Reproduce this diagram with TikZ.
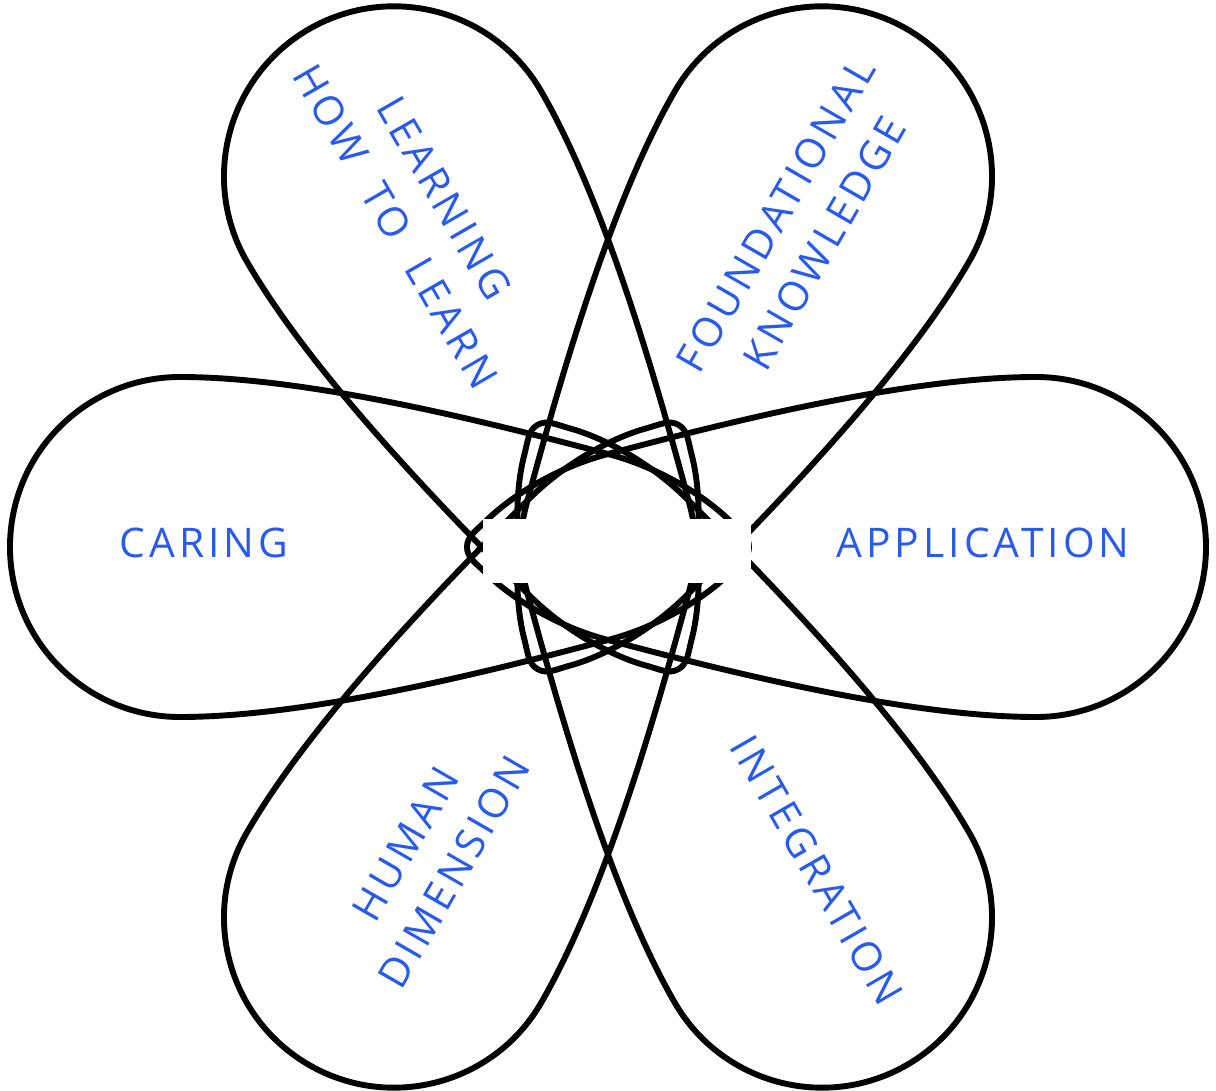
\documentclass[tikz,border=0pt]{standalone}
\usepackage{fontspec}
\newfontfamily\labelfont[LetterSpace=10, WordSpace=2]{Open Sans}
\definecolor{labelblue}{RGB}{40,90,235}

\begin{document}
\begin{tikzpicture}[x=0.025cm, y=0.025cm,
  petal/.style={line width=4.2pt, black, line join=round},
  lbl/.style={text=labelblue, font=\labelfont\fontsize{29}{40}\selectfont, align=center, inner sep=0pt}]
\useasboundingbox (-608,-544) rectangle (608,547);

% Petals
\foreach \ang in {0,60,...,300}
  \draw[petal, rotate=\ang] (-141,0) .. controls (-141,11) and (-132,16) .. (-120,28)
    .. controls (-95,52) and (-50,80) .. (0,93)
    .. controls (120,125) and (300,170) .. (428,170)
    arc[start angle=90, end angle=-90, radius=170]
    .. controls (300,-170) and (120,-125) .. (0,-93)
    .. controls (-50,-80) and (-95,-52) .. (-120,-28)
    .. controls (-132,-16) and (-141,-11) .. cycle;

% Centre patch
\node[fill=white, inner sep=0pt, minimum width=6.7cm, minimum height=1.58cm] (hub) at (9,-4) {};

% Labels
\node[lbl] (caring) at (-404,4) {CARING};
\node[lbl] (application) at (375,4) {APPLICATION};
\node[lbl, rotate=60] (foundational) at (192,318) {FOUNDATIONAL\\KNOWLEDGE};
\node[lbl, rotate=-60] (learning) at (-188,335) {LEARNING\\HOW TO LEARN};
\node[lbl, rotate=60] (human) at (-178,-311) {HUMAN\\DIMENSION};
\node[lbl, rotate=-60] (integration) at (209,-323) {INTEGRATION};

\end{tikzpicture}
\end{document}
